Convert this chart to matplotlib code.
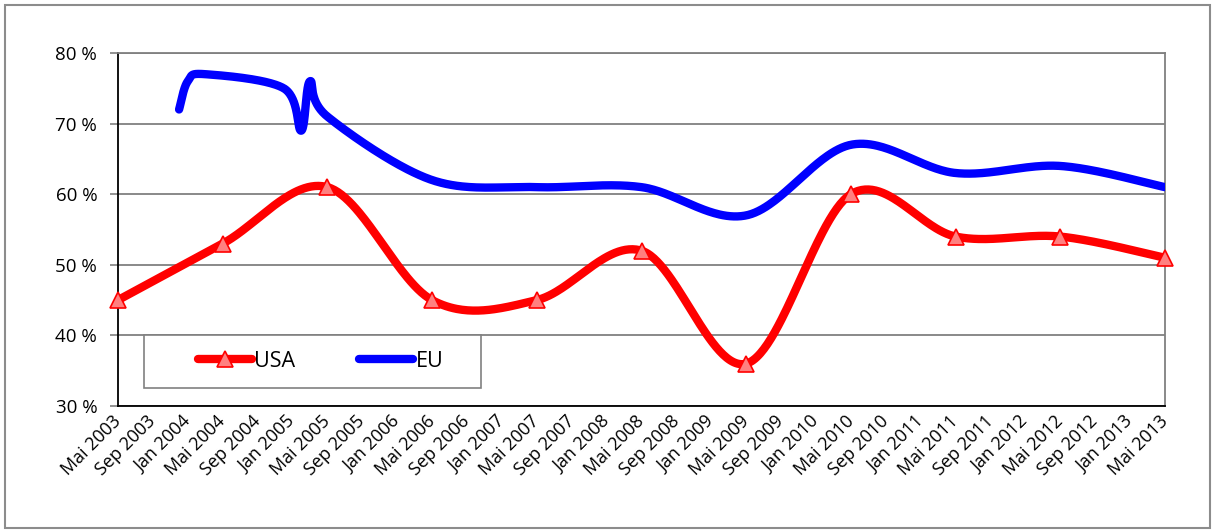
import numpy as np
import matplotlib
matplotlib.use("Agg")
import matplotlib.pyplot as plt
from matplotlib.patches import Rectangle
from matplotlib.lines import Line2D

plt.rcParams['font.family'] = ['Open Sans', 'DejaVu Sans']

# ---- data ----
tick_labels = ["Mai 2003", "Sep 2003", "Jan 2004", "Mai 2004", "Sep 2004", "Jan 2005",
               "Mai 2005", "Sep 2005", "Jan 2006", "Mai 2006", "Sep 2006", "Jan 2007",
               "Mai 2007", "Sep 2007", "Jan 2008", "Mai 2008", "Sep 2008", "Jan 2009",
               "Mai 2009", "Sep 2009", "Jan 2010", "Mai 2010", "Sep 2010", "Jan 2011",
               "Mai 2011", "Sep 2011", "Jan 2012", "Mai 2012", "Sep 2012", "Jan 2013",
               "Mai 2013"]
# months since Mai 2003
usa_months = [0, 12, 24, 36, 48, 60, 72, 84, 96, 108, 120]
usa_values = [45, 53, 61, 45, 45, 52, 36, 60, 54, 54, 51]
eu_months = [7, 8, 10, 19, 21, 22, 24, 36, 48, 60, 72, 84, 96, 108, 120]
eu_values = [72, 76, 77, 75, 69, 76, 71, 62, 61, 61, 57, 67, 63, 64, 61]
y_ticks = [30, 40, 50, 60, 70, 80]


def smooth(xs, ys, n=60):
    """Excel-like smoothed line: cubic Bezier through points."""
    P = np.column_stack([xs, ys]).astype(float)
    m = len(P)
    out = []
    for i in range(m - 1):
        p0 = P[i - 1] if i > 0 else P[i]
        p1 = P[i]
        p2 = P[i + 1]
        p3 = P[i + 2] if i + 2 < m else P[i + 1]
        c1 = p1 + (p2 - p0) / 6.0
        c2 = p2 - (p3 - p1) / 6.0
        t = np.linspace(0, 1, n)[:, None]
        seg = ((1 - t) ** 3) * p1 + 3 * ((1 - t) ** 2) * t * c1 + 3 * (1 - t) * t ** 2 * c2 + t ** 3 * p2
        out.append(seg if i == 0 else seg[1:])
    out = np.vstack(out)
    return out[:, 0], out[:, 1]


fig = plt.figure(figsize=(12.15, 5.32), dpi=100)
ax = fig.add_axes([118 / 1215, 1 - 406 / 532, 1047 / 1215, 353 / 532])

# outer chart border
fig.patches.append(Rectangle((5 / 1215, 4 / 532), 1205 / 1215, 523 / 532,
                             transform=fig.transFigure, fill=False,
                             edgecolor='#8c8c8c', linewidth=1.5))

# gridlines
for yv in y_ticks:
    ax.axhline(yv, color='#808080', linewidth=1.3, zorder=1)

red = '#ff0000'
blue = '#0000ff'
lw = 6.0

ux, uy = smooth(usa_months, usa_values)
ex, ey = smooth(eu_months, eu_values)
ax.plot(ex, ey, color=blue, linewidth=lw, solid_capstyle='round', zorder=3)
ax.plot(ux, uy, color=red, linewidth=lw, solid_capstyle='round', zorder=4)
ax.plot(usa_months, usa_values, linestyle='none', marker='^', markersize=11.5,
        markerfacecolor='#ff8080', markeredgecolor=red, markeredgewidth=1.2,
        zorder=5, clip_on=False)

ax.set_xlim(0, 120)
ax.set_ylim(30, 80)
ax.set_xticks(np.arange(0, 121, 4))
ax.set_xticklabels(tick_labels, rotation=45, ha='right', va='center',
                   rotation_mode='anchor', fontsize=13)
ax.set_yticks(y_ticks)
ax.set_yticklabels([f"{v} %" for v in y_ticks], fontsize=13.5)
ax.tick_params(axis='x', length=0, pad=9)
ax.tick_params(axis='y', length=6, width=1.2, color='#808080', pad=9)

for s in ['top', 'right']:
    ax.spines[s].set_color('#808080')
    ax.spines[s].set_linewidth(1.3)
for s in ['left', 'bottom']:
    ax.spines[s].set_color('black')
    ax.spines[s].set_linewidth(1.3)

# legend box
lx0, lx1 = (144 - 118) / 1047, (481 - 118) / 1047
ly0, ly1 = (406 - 388) / 353, (406 - 335) / 353
ax.add_patch(Rectangle((lx0, ly0), lx1 - lx0, ly1 - ly0, transform=ax.transAxes,
                       facecolor='white', edgecolor='#808080', linewidth=1.2, zorder=6))
handles = [Line2D([], [], color=red, linewidth=lw, solid_capstyle='round', marker='^',
                  markersize=11.5, markerfacecolor='#ff8080', markeredgecolor=red,
                  markeredgewidth=1.2),
           Line2D([], [], color=blue, linewidth=lw, solid_capstyle='round')]
leg = ax.legend(handles, ['USA', 'EU'], ncol=2, frameon=False, loc='center',
                bbox_to_anchor=(lx0 + 8 / 1047, ly0, lx1 - lx0, ly1 - ly0),
                fontsize=15.5, handlelength=2.5, handletextpad=0.1, columnspacing=3.0,
                markerscale=1.0)
leg.set_zorder(7)

fig.savefig("out.png", dpi=100, facecolor='white')
